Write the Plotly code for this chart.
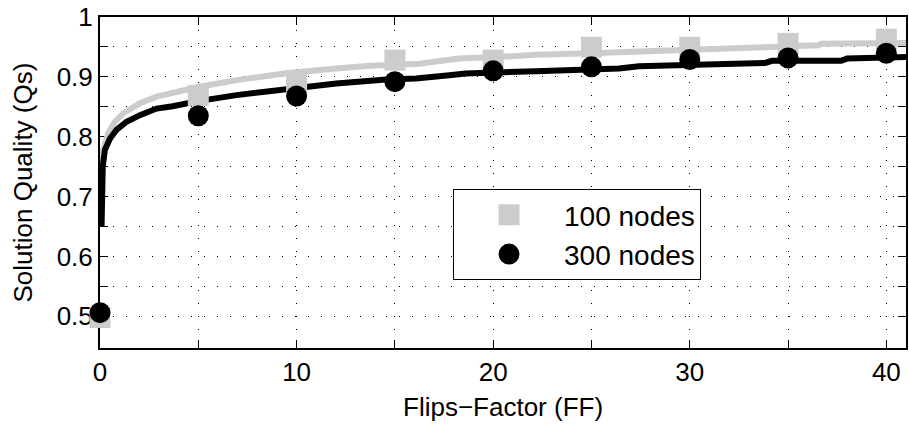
import plotly.graph_objects as go

# Flips-factor sample points where the solution quality was measured
ff_points = [0, 5, 10, 15, 20, 25, 30, 35, 40]
qs_100_points = [0.498, 0.869, 0.891, 0.928, 0.928, 0.9495, 0.9495, 0.956, 0.963]
qs_300_points = [0.506, 0.835, 0.868, 0.892, 0.910, 0.9167, 0.929, 0.9317, 0.9395]

# Continuous quality trace, 100 nodes
ff_100_curve = [0.1, 0.17, 0.42, 0.76, 1.18, 2.03, 2.88, 3.72, 4.57, 4.99, 6.94, 9.48,
                12.02, 13.7, 16.24, 18.27, 20.47, 22.17, 24.53, 26.9, 27.24, 29.44,
                33.16, 36.55, 36.7, 41]
qs_100_curve = [0.755, 0.778, 0.806, 0.825, 0.839, 0.856, 0.867, 0.873, 0.881, 0.883,
                0.8945, 0.906, 0.914, 0.9185, 0.922, 0.9305, 0.9335, 0.937, 0.939,
                0.9417, 0.9435, 0.9457, 0.95, 0.9528, 0.9555, 0.9567]

# Continuous quality trace, 300 nodes
ff_300_curve = [0.08, 0.1, 0.14, 0.25, 0.51, 0.85, 1.35, 2.03, 2.88, 3.7, 4.99, 6.94,
                9.48, 12.02, 14.56, 16.07, 17.77, 18.6, 22.17, 24.53, 26.4, 27.41,
                33.84, 34.18, 37.7, 38.0, 41]
qs_300_curve = [0.65, 0.70, 0.75, 0.778, 0.797, 0.812, 0.825, 0.836, 0.847, 0.851,
                0.8595, 0.8695, 0.8805, 0.889, 0.8957, 0.8973, 0.9028, 0.9057, 0.9095,
                0.9123, 0.914, 0.9178, 0.9233, 0.9267, 0.9267, 0.9305, 0.9333]

series_names = ["100 nodes", "300 nodes"]

x_tickvals = [0, 5, 10, 15, 20, 25, 30, 35, 40]
x_ticktext = ["0", "", "10", "", "20", "", "30", "", "40"]
y_tickvals = [0.5, 0.55, 0.6, 0.65, 0.7, 0.75, 0.8, 0.85, 0.9, 0.95, 1.0]
y_ticktext = ["0.5", "", "0.6", "", "0.7", "", "0.8", "", "0.9", "", "1"]

GREY = "#cccccc"
BLACK = "#000000"
FONT = "Liberation Sans, Arial, Helvetica, sans-serif"

fig = go.Figure()

fig.add_trace(go.Scatter(x=ff_100_curve, y=qs_100_curve, mode="lines",
                         line=dict(color=GREY, width=6), showlegend=False,
                         hoverinfo="skip"))
fig.add_trace(go.Scatter(x=ff_300_curve, y=qs_300_curve, mode="lines",
                         line=dict(color=BLACK, width=6), showlegend=False,
                         hoverinfo="skip"))
fig.add_trace(go.Scatter(x=ff_points, y=qs_100_points, mode="markers",
                         marker=dict(symbol="square", size=21, color=GREY),
                         cliponaxis=False, showlegend=False))
fig.add_trace(go.Scatter(x=ff_points, y=qs_300_points, mode="markers",
                         marker=dict(symbol="circle", size=21, color=BLACK),
                         cliponaxis=False, showlegend=False))

# Legend entries (legend symbols are size-capped, so the outline adds the rest)
fig.add_trace(go.Scatter(x=[None], y=[None], mode="markers", name=series_names[0],
                         legendgroup="a",
                         marker=dict(symbol="square", size=16, color=GREY,
                                     line=dict(color=GREY, width=5))))
fig.add_trace(go.Scatter(x=[None], y=[None], mode="markers", name=series_names[1],
                         legendgroup="b",
                         marker=dict(symbol="circle", size=16, color=BLACK,
                                     line=dict(color=BLACK, width=5))))

axis_common = dict(
    showline=True, linecolor=BLACK, linewidth=2, mirror="ticks",
    ticks="inside", ticklen=8, tickwidth=1, tickcolor=BLACK,
    showgrid=True, gridcolor=BLACK, gridwidth=1, griddash="1px,12px",
    zeroline=False, tickfont=dict(family=FONT, size=26, color=BLACK),
    layer="below traces",
)

fig.update_xaxes(range=[0, 41], tickmode="array", tickvals=x_tickvals,
                 ticktext=x_ticktext, **axis_common)
fig.update_yaxes(range=[0.447, 1.0], tickmode="array", tickvals=y_tickvals,
                 ticktext=y_ticktext, **axis_common)

fig.update_layout(
    width=909, height=427,
    margin=dict(l=100, r=1, t=17, b=79, pad=0),
    paper_bgcolor="white", plot_bgcolor="white",
    font=dict(family=FONT, color=BLACK),
    showlegend=True,
    legend=dict(x=0.438, y=0.4804, xanchor="left", yanchor="top",
                bgcolor="white", bordercolor=BLACK, borderwidth=1,
                font=dict(family=FONT, size=28, color=BLACK),
                itemwidth=100, tracegroupgap=0, traceorder="grouped"),
    annotations=[
        dict(text="Flips\u2212Factor (FF)", xref="paper", yref="paper",
             x=0.5, y=0, yshift=-59, xanchor="center", yanchor="middle",
             showarrow=False, font=dict(family=FONT, size=26, color=BLACK)),
        dict(text="Solution Quality (Qs)", xref="paper", yref="paper",
             x=0, y=0.5, xshift=-78, xanchor="center", yanchor="middle",
             textangle=-90, showarrow=False,
             font=dict(family=FONT, size=26, color=BLACK)),
    ],
)

fig.write_html("out.html")
